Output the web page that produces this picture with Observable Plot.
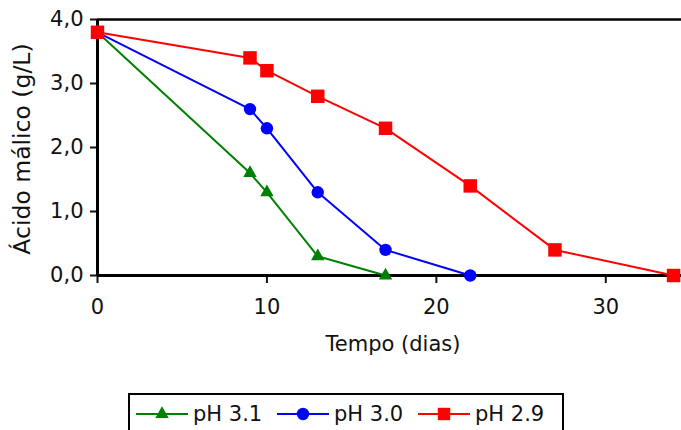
<!DOCTYPE html>
<html>
<head>
<meta charset="utf-8">
<script src="https://cdn.jsdelivr.net/npm/d3@7"></script>
<script src="https://cdn.jsdelivr.net/npm/@observablehq/plot@0.6"></script>
<style>
  html, body { margin: 0; padding: 0; background: white; }
  #wrap { position: relative; width: 681px; height: 430px; overflow: hidden; font-family: "DejaVu Sans", Verdana, sans-serif; }
  #chart { position: absolute; left: 0; top: 0; }
  #legend { position: absolute; left: 128px; top: 393px; width: 436px; height: 44px; border: 2px solid black; box-sizing: border-box; font-size: 21px; color: #111; }
  .item { position: absolute; top: 6px; display: flex; align-items: center; height: 26px; }
  .item svg { margin-right: 5px; }
</style>
</head>
<body>
<div id="wrap"><div id="chart"></div><div id="legend"></div></div>
<script>
const series = ["pH 3.1", "pH 3.0", "pH 2.9"];
const colors = ["#008000", "#0000ff", "#ff0000"];
const symbols = ["triangle", "circle", "square"];
const days31 = [0, 9, 10, 13, 17];
const acid31 = [3.8, 1.6, 1.3, 0.3, 0.0];
const days30 = [0, 9, 10, 13, 17, 22];
const acid30 = [3.8, 2.6, 2.3, 1.3, 0.4, 0.0];
const days29 = [0, 9, 10, 13, 17, 22, 27, 34];
const acid29 = [3.8, 3.4, 3.2, 2.8, 2.3, 1.4, 0.4, 0.0];
const xTicks = [0, 10, 20, 30];
const yTicks = [0, 1, 2, 3, 4];
const xLabel = "Tempo (dias)";
const yLabel = "Ácido málico (g/L)";

const data = [
  ...days31.map((d, i) => ({s: series[0], x: d, y: acid31[i]})),
  ...days30.map((d, i) => ({s: series[1], x: d, y: acid30[i]})),
  ...days29.map((d, i) => ({s: series[2], x: d, y: acid29[i]}))
];
const radius = {"pH 3.1": 5, "pH 3.0": 6.2, "pH 2.9": 7.6};

const marks = [
  Plot.ruleY([4], {stroke: "black", strokeWidth: 2.5}),
  Plot.axisY({ticks: yTicks, tickFormat: d => d.toFixed(1).replace(".", ","), tickSize: 7, tickPadding: 7, fontSize: 21, strokeWidth: 2, label: null, color: "#111"}),
  Plot.axisX({ticks: xTicks, tickSize: 8, tickPadding: 16, fontSize: 21, strokeWidth: 2, label: null, color: "#111"}),
  Plot.ruleY([0], {stroke: "black", strokeWidth: 3}),
  Plot.ruleX([0], {stroke: "black", strokeWidth: 3}),
];
series.forEach((s, k) => {
  const sub = data.filter(d => d.s === s);
  marks.push(Plot.line(sub, {x: "x", y: "y", stroke: colors[k], strokeWidth: 2}));
  marks.push(Plot.dot(sub, {x: "x", y: "y", fill: colors[k], symbol: symbols[k], r: radius[s], stroke: "none"}));
});

const plot = Plot.plot({
  width: 681,
  height: 390,
  marginLeft: 97,
  marginRight: 0,
  marginTop: 19,
  marginBottom: 115,
  x: {domain: [0, 35], range: [97, 690]},
  y: {domain: [0, 4], range: [275, 19]},
  style: {fontFamily: "DejaVu Sans, Verdana, sans-serif", overflow: "hidden"},
  marks
});
const svg = d3.select(plot);
svg.append("text")
  .attr("transform", "translate(30,149) rotate(-90)")
  .attr("text-anchor", "middle")
  .attr("font-size", 23.5)
  .attr("fill", "#111")
  .text(yLabel);
svg.append("text")
  .attr("x", 393)
  .attr("y", 351)
  .attr("text-anchor", "middle")
  .attr("font-size", 21)
  .attr("fill", "#111")
  .text(xLabel);
document.getElementById("chart").appendChild(plot);

const legend = document.getElementById("legend");
const itemLeft = [6, 147, 288];
series.forEach((s, k) => {
  const item = document.createElement("div");
  item.className = "item";
  item.style.left = itemLeft[k] + "px";
  const ns = "http://www.w3.org/2000/svg";
  const icon = document.createElementNS(ns, "svg");
  icon.setAttribute("width", 52); icon.setAttribute("height", 18);
  const ln = document.createElementNS(ns, "line");
  ln.setAttribute("x1", 0); ln.setAttribute("x2", 52); ln.setAttribute("y1", 9); ln.setAttribute("y2", 9);
  ln.setAttribute("stroke", colors[k]); ln.setAttribute("stroke-width", 2);
  icon.appendChild(ln);
  const p = document.createElementNS(ns, "path");
  const sym = d3.symbol(k === 0 ? d3.symbolTriangle : k === 1 ? d3.symbolCircle : d3.symbolSquare, Math.PI * radius[s] * radius[s] * (k === 2 ? 0.85 : 1))();
  p.setAttribute("d", sym); p.setAttribute("transform", "translate(26,9)"); p.setAttribute("fill", colors[k]);
  icon.appendChild(p);
  item.appendChild(icon);
  const t = document.createElement("span"); t.textContent = s;
  item.appendChild(t);
  legend.appendChild(item);
});
</script>
</body>
</html>
